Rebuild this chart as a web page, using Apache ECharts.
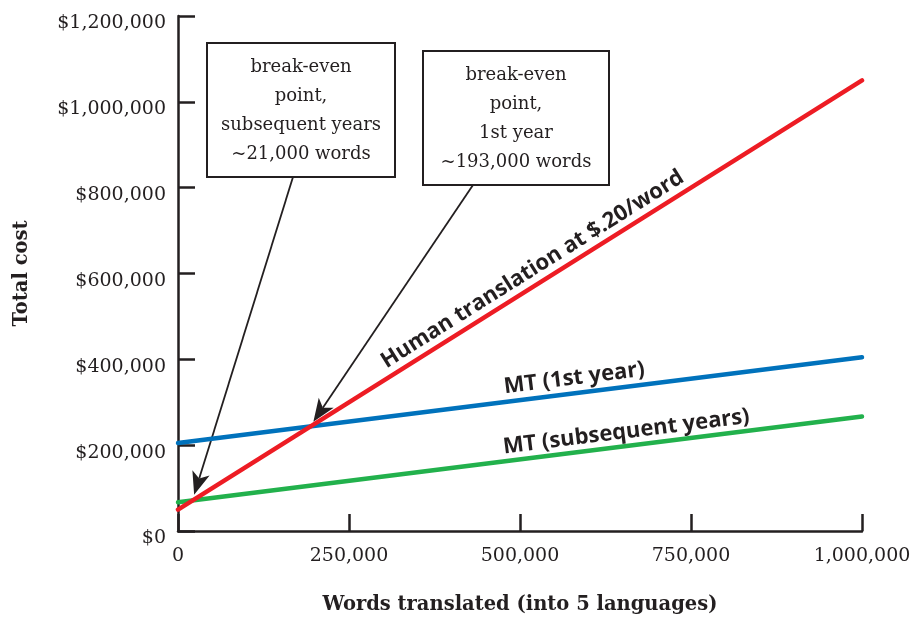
<!DOCTYPE html>
<html>
<head>
<meta charset="utf-8">
<title>MT vs human translation cost</title>
<script src="https://cdn.jsdelivr.net/npm/echarts@6/dist/echarts.min.js"></script>
<style>
  html, body { margin: 0; padding: 0; background: #fff; }
  #chart { width: 912px; height: 617px; }
</style>
</head>
<body>
<div id="chart"></div>
<script>
  // words translated (x) and total cost of each option (y)
  const words = [0, 1000000];
  const humanCost = [50000, 1050000];
  const mtFirstYear = [205000, 405000];
  const mtSubsequent = [67000, 267000];

  const xTicks = [0, 250000, 500000, 750000, 1000000];
  const yTicks = [0, 200000, 400000, 600000, 800000, 1000000, 1200000];

  // break-even points the arrows point at
  const breakEvenWords = [21000, 193000];
  const breakEvenCost = [71000, 243000];

  const ink = '#231f20';
  const serif = '"DejaVu Serif", serif';
  const sans = '"Open Sans", "Noto Sans", sans-serif';

  const chart = echarts.init(document.getElementById('chart'));

  function pairs(ys) {
    return words.map((w, i) => [w, ys[i]]);
  }

  chart.setOption({
    animation: false,
    grid: { left: 178, right: 50, top: 16, bottom: 86, containLabel: false, outerBoundsMode: 'none' },
    xAxis: {
      type: 'value',
      min: xTicks[0],
      max: xTicks[xTicks.length - 1],
      interval: xTicks[1] - xTicks[0],
      name: 'Words translated (into 5 languages)',
      nameLocation: 'middle',
      nameGap: 64,
      nameTextStyle: { fontFamily: serif, fontWeight: 'bold', fontSize: 19.5, color: ink },
      axisLine: { lineStyle: { color: ink, width: 2.5 } },
      axisTick: { inside: true, length: 17, lineStyle: { color: ink, width: 2.5 } },
      axisLabel: {
        margin: 16, fontFamily: serif, fontSize: 19, color: ink,
        formatter: v => v.toLocaleString('en-US')
      },
      splitLine: { show: false }
    },
    yAxis: {
      type: 'value',
      min: yTicks[0],
      max: yTicks[yTicks.length - 1],
      interval: yTicks[1] - yTicks[0],
      name: 'Total cost',
      nameLocation: 'middle',
      nameGap: 146,
      nameTextStyle: { fontFamily: serif, fontWeight: 'bold', fontSize: 19.5, color: ink },
      axisLine: { lineStyle: { color: ink, width: 2.5 } },
      axisTick: { inside: true, length: 17, lineStyle: { color: ink, width: 2.5 } },
      axisLabel: {
        margin: 12, fontFamily: serif, fontSize: 19, color: ink,
        verticalAlign: 'top', lineHeight: 15,
        formatter: v => '$' + v.toLocaleString('en-US')
      },
      splitLine: { show: false }
    },
    series: [
      {
        name: 'MT (1st year)', type: 'line', data: pairs(mtFirstYear),
        showSymbol: false, silent: true,
        lineStyle: { color: '#0072bc', width: 4.5, cap: 'round' }
      },
      {
        name: 'MT (subsequent years)', type: 'line', data: pairs(mtSubsequent),
        showSymbol: false, silent: true,
        lineStyle: { color: '#22b14c', width: 4.5, cap: 'round' }
      },
      {
        name: 'Human translation at $.20/word', type: 'line', data: pairs(humanCost),
        showSymbol: false, silent: true,
        lineStyle: { color: '#ed1c24', width: 4.5, cap: 'round' }
      }
    ]
  });

  // --- annotations: labels along the lines, boxes and arrows ---
  const lineLabels = [
    { text: 'Human translation at $.20/word', ys: humanCost, at: 530000, gap: 4 },
    { text: 'MT (1st year)', ys: mtFirstYear, at: 582000, gap: 4 },
    { text: 'MT (subsequent years)', ys: mtSubsequent, at: 658000, gap: 3 }
  ];

  const boxes = [
    { x: 207, y: 43, w: 188, h: 134, text: 'break-even\npoint,\nsubsequent years\n~21,000 words', from: [293, 177] },
    { x: 423, y: 51, w: 186, h: 134, text: 'break-even\npoint,\n1st year\n~193,000 words', from: [473, 185] }
  ];

  const graphics = [];

  lineLabels.forEach(l => {
    const p0 = chart.convertToPixel('grid', [words[0], l.ys[0]]);
    const p1 = chart.convertToPixel('grid', [words[1], l.ys[1]]);
    const t = (l.at - words[0]) / (words[1] - words[0]);
    const yAt = l.ys[0] + t * (l.ys[1] - l.ys[0]);
    const foot = chart.convertToPixel('grid', [l.at, yAt]);
    const angle = Math.atan2(p0[1] - p1[1], p1[0] - p0[0]);
    const nx = -Math.sin(angle), ny = -Math.cos(angle);
    graphics.push({
      type: 'text',
      x: foot[0] + nx * l.gap,
      y: foot[1] + ny * l.gap,
      rotation: angle,
      silent: true,
      style: {
        text: l.text, fill: ink,
        fontFamily: sans, fontWeight: 'bold', fontSize: 22,
        align: 'center', verticalAlign: 'bottom'
      }
    });
  });

  boxes.forEach((b, i) => {
    graphics.push({
      type: 'rect', silent: true,
      shape: { x: b.x, y: b.y, width: b.w, height: b.h },
      style: { fill: '#fff', stroke: ink, lineWidth: 2 }
    });
    graphics.push({
      type: 'text', silent: true,
      x: b.x + b.w / 2, y: b.y + b.h / 2 + 1,
      style: {
        text: b.text, fill: ink, fontFamily: serif, fontSize: 18, lineHeight: 29,
        align: 'center', verticalAlign: 'middle'
      }
    });

    // arrow from the box to just short of the break-even point
    const target = chart.convertToPixel('grid', [breakEvenWords[i], breakEvenCost[i]]);
    const dx = target[0] - b.from[0], dy = target[1] - b.from[1];
    const len = Math.sqrt(dx * dx + dy * dy);
    const ux = dx / len, uy = dy / len;
    const tip = [target[0] - ux * 6, target[1] - uy * 6];
    const headLen = 23, headHalf = 9, notch = 6;
    const base = [tip[0] - ux * headLen, tip[1] - uy * headLen];
    const back = [tip[0] - ux * (headLen - notch), tip[1] - uy * (headLen - notch)];
    graphics.push({
      type: 'line', silent: true,
      shape: { x1: b.from[0], y1: b.from[1], x2: back[0], y2: back[1] },
      style: { stroke: ink, lineWidth: 1.8 }
    });
    graphics.push({
      type: 'polygon', silent: true,
      shape: {
        points: [
          tip,
          [base[0] - uy * headHalf, base[1] + ux * headHalf],
          back,
          [base[0] + uy * headHalf, base[1] - ux * headHalf]
        ]
      },
      style: { fill: ink }
    });
  });

  chart.setOption({ graphic: graphics });
</script>
</body>
</html>
